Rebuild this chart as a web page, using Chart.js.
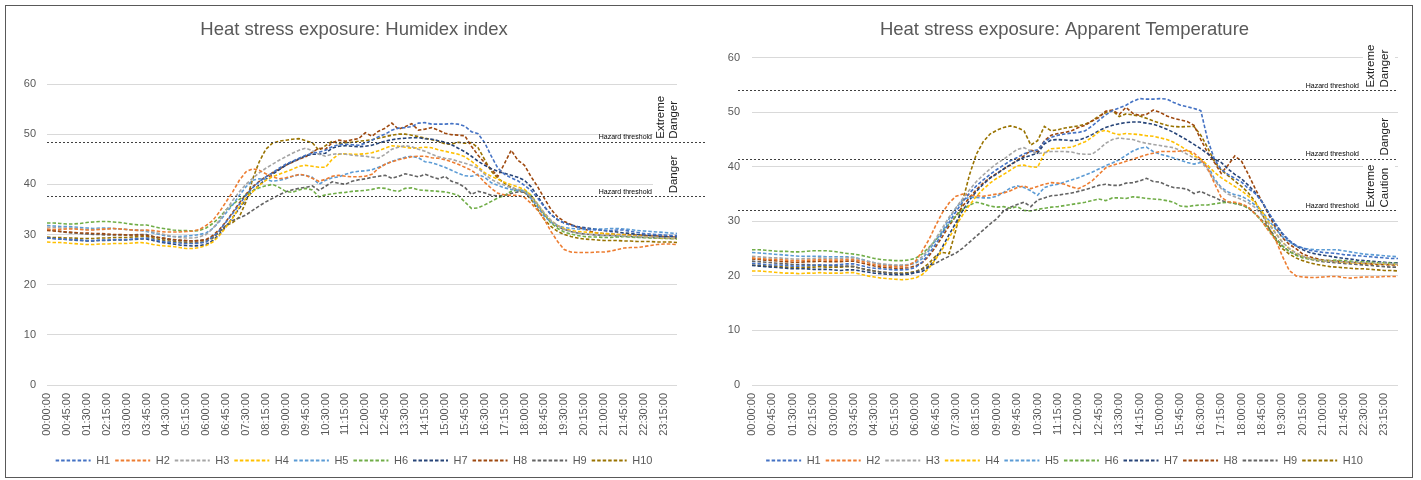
<!DOCTYPE html>
<html lang="en">
<head>
<meta charset="UTF-8">
<title>Heat stress exposure</title>
<script src="https://cdn.jsdelivr.net/npm/chart.js"></script>
<style>
  body { margin: 0; background: #fff; }
  #wrap { position: relative; width: 1421px; height: 480px; }
  #wrap canvas { position: absolute; top: 0; }
  #frame { position: absolute; left: 5px; top: 5px; width: 1408px; height: 473px;
           border: 1.5px solid #595959; box-sizing: border-box; pointer-events: none; }
</style>
</head>
<body>
<div id="wrap">
  <canvas id="humidex" width="708" height="480" style="left:0"></canvas>
  <canvas id="apparent" width="713" height="480" style="left:708px"></canvas>
  <div id="frame"></div>
</div>
<script>
// 15 minute steps, 00:00 .. 23:45
const times = [];
for (let m = 0; m < 24 * 60; m += 15) {
  const h = String(Math.floor(m / 60)).padStart(2, '0');
  const mm = String(m % 60).padStart(2, '0');
  times.push(h + ':' + mm + ':00');
}

const seriesNames = ['H1', 'H2', 'H3', 'H4', 'H5', 'H6', 'H7', 'H8', 'H9', 'H10'];
const seriesColors = ['#4472C4', '#ED7D31', '#A5A5A5', '#FFC000', '#5B9BD5',
                      '#70AD47', '#264478', '#9E480E', '#636363', '#997300'];

// Humidex index
const hxH1 = [29.3,29.2,29.1,29.0,29.0,28.9,28.8,28.8,28.9,28.9,29.0,29.0,
  29.0,29.1,29.2,29.3,29.0,28.7,28.5,28.4,28.3,28.2,28.2,28.3,
  28.5,29.5,30.8,32.5,34.2,36.0,37.8,39.3,40.5,41.5,42.3,43.2,
  44.0,44.6,45.2,45.8,46.2,46.4,46.8,47.5,47.9,48.0,47.9,47.8,
  48.2,48.8,49.5,50.0,50.8,51.2,51.3,51.5,52.2,52.3,52.0,52.0,
  52.0,52.1,52.0,51.6,50.5,50.1,48.3,45.6,43.2,42.0,41.3,40.7,
  39.8,38.8,37.2,35.5,34.0,33.0,32.3,31.8,31.5,31.2,31.0,30.9,
  30.8,30.8,30.9,30.9,30.6,30.4,30.2,30.1,30.0,29.9,29.8,29.8];
const hxH2 = [31.1,31.0,31.0,31.1,31.1,31.0,30.9,30.9,31.0,31.1,31.2,31.1,
  31.0,30.9,30.8,30.9,30.8,30.6,30.5,30.5,30.5,30.6,30.7,31.0,
  31.8,32.8,34.5,36.5,38.5,40.8,42.5,43.1,42.8,42.1,41.5,41.1,
  41.3,41.6,42.0,41.8,41.2,40.6,41.0,41.6,41.8,41.6,41.5,41.5,
  41.6,42.0,43.2,44.0,44.5,44.9,45.2,45.5,45.6,45.6,45.3,45.2,
  44.9,44.5,44.0,43.4,42.8,41.8,40.4,39.2,38.2,37.9,37.8,37.8,
  37.4,36.2,34.8,33.0,30.6,28.6,27.0,26.5,26.4,26.4,26.4,26.5,
  26.5,26.7,27.0,27.3,27.4,27.4,27.6,27.8,28.0,28.1,28.1,28.0];
const hxH3 = [31.5,31.4,31.3,31.3,31.2,31.1,31.0,31.0,31.1,31.1,31.2,31.1,
  31.0,30.9,30.9,30.8,30.5,30.2,29.9,29.6,29.4,29.3,29.3,29.5,
  30.0,31.2,32.8,34.8,36.8,38.5,40.0,41.2,42.3,43.2,44.0,44.8,
  45.5,46.2,46.8,47.2,46.7,46.0,45.6,46.0,46.1,46.0,45.8,45.7,
  45.6,45.4,45.2,46.0,47.0,47.4,47.7,47.5,47.0,46.6,46.0,45.5,
  45.2,45.0,44.6,44.2,43.8,43.2,42.0,41.0,40.3,39.8,39.3,39.0,
  38.6,37.5,36.0,34.3,32.8,31.8,31.0,30.6,30.3,30.1,30.0,29.9,
  29.8,29.8,29.8,29.7,29.6,29.6,29.5,29.5,29.4,29.4,29.3,29.3];
const hxH4 = [28.5,28.4,28.4,28.3,28.2,28.1,28.0,28.0,28.1,28.1,28.2,28.2,
  28.2,28.3,28.4,28.3,28.0,27.8,27.7,27.6,27.4,27.2,27.2,27.4,
  27.8,28.5,29.8,31.5,33.3,35.5,37.2,38.5,39.8,40.8,41.5,42.0,
  42.5,43.0,43.6,43.8,43.6,43.4,43.4,45.0,46.0,46.1,46.0,46.0,
  46.1,46.3,46.7,47.2,47.7,47.6,47.4,47.2,47.3,47.4,47.3,46.9,
  46.6,46.3,46.0,45.5,44.6,43.5,42.3,41.6,41.0,40.4,39.9,39.5,
  39.0,37.8,36.0,34.2,32.8,31.8,31.2,30.8,30.6,30.5,30.4,30.3,
  30.2,30.1,30.0,29.9,29.8,29.7,29.6,29.5,29.4,29.3,29.3,29.2];
const hxH5 = [31.8,31.7,31.6,31.6,31.5,31.4,31.3,31.2,31.3,31.3,31.2,31.1,
  31.0,30.9,30.8,30.6,30.3,30.0,29.7,29.6,29.6,29.7,29.8,30.0,
  30.3,31.2,32.6,34.3,35.9,37.8,39.5,40.8,41.1,41.0,40.6,40.8,
  41.1,41.6,41.9,41.8,41.4,40.0,40.8,41.3,41.5,42.0,42.4,42.6,
  42.7,42.9,43.4,44.0,44.6,45.0,45.4,45.6,45.3,44.5,44.3,43.9,
  43.4,42.8,42.2,41.7,41.6,42.0,41.4,40.3,39.8,39.3,39.0,38.8,
  38.6,37.2,35.5,33.6,32.5,31.8,31.4,31.2,31.1,31.0,31.0,31.1,
  31.1,31.2,31.2,31.1,31.0,30.8,30.7,30.6,30.5,30.4,30.3,30.2];
const hxH6 = [32.3,32.3,32.2,32.1,32.1,32.2,32.4,32.5,32.6,32.6,32.5,32.4,
  32.2,32.0,31.9,31.9,31.6,31.3,31.1,30.9,30.8,30.8,30.7,30.8,
  31.3,32.2,33.4,34.9,36.0,37.0,37.9,38.7,39.3,39.7,40.0,39.4,
  38.6,38.4,38.9,39.2,38.9,37.5,37.9,38.1,38.3,38.4,38.6,38.7,
  38.8,39.0,39.3,39.2,38.8,38.6,39.2,39.3,38.9,38.8,38.7,38.6,
  38.5,38.2,37.8,36.5,35.2,35.3,35.9,36.6,37.3,37.8,38.6,38.9,
  38.8,37.8,36.0,34.0,32.3,31.2,30.5,30.1,29.8,29.6,29.5,29.5,
  29.4,29.4,29.5,29.6,29.5,29.4,29.4,29.3,29.3,29.2,29.2,29.1];
const hxH7 = [29.3,29.2,29.1,29.0,28.9,28.8,28.7,28.7,28.8,28.8,28.9,28.9,
  28.9,29.0,29.1,29.1,28.8,28.5,28.3,28.1,27.9,27.8,27.7,27.8,
  28.0,28.8,30.0,31.6,33.4,35.2,37.0,38.6,39.9,41.0,42.0,42.9,
  43.8,44.5,45.1,45.7,46.0,46.0,46.2,47.2,47.6,47.7,47.6,47.5,
  47.6,47.8,48.2,48.6,48.9,49.1,49.2,49.3,49.3,49.1,49.0,48.7,
  48.4,47.9,47.2,46.5,45.6,44.6,43.8,43.1,42.6,42.2,41.8,41.4,
  40.8,39.5,37.6,35.6,34.0,32.9,32.3,31.9,31.6,31.4,31.2,31.0,
  30.8,30.6,30.5,30.3,30.2,30.0,29.9,29.8,29.7,29.6,29.6,29.5];
const hxH8 = [30.8,30.7,30.6,30.5,30.4,30.3,30.3,30.2,30.2,30.1,30.0,30.0,
  29.9,29.9,29.9,29.8,29.6,29.4,29.2,29.0,28.9,28.8,28.7,28.8,
  29.0,29.8,31.0,32.6,34.4,36.3,38.0,39.5,40.6,41.5,42.3,43.0,
  43.8,44.4,45.0,45.5,46.4,47.2,47.0,48.3,48.8,48.6,48.9,49.1,
  50.3,49.6,50.6,51.2,52.2,51.0,51.5,52.1,50.8,51.0,51.3,50.8,
  50.2,49.9,49.8,49.7,47.6,45.8,44.3,43.0,41.6,44.2,46.8,44.8,
  43.8,41.5,39.5,37.2,35.0,33.5,32.6,32.0,31.4,31.1,30.6,30.3,
  30.2,30.1,30.0,30.0,29.9,29.9,29.8,29.7,29.7,29.6,29.5,29.5];
const hxH9 = [31.0,30.8,30.6,30.4,30.3,30.2,30.1,30.0,30.0,29.9,29.9,29.9,
  29.9,29.9,30.0,30.0,29.6,29.3,29.1,28.9,28.8,28.7,28.7,28.8,
  28.9,29.5,30.6,31.8,32.8,33.3,33.9,34.8,35.7,36.5,37.2,37.9,
  38.5,38.9,39.2,39.4,39.7,38.8,39.6,40.5,40.2,40.0,40.6,40.9,
  41.1,41.4,41.6,41.8,41.2,41.6,42.1,41.8,41.5,42.0,41.5,41.1,
  41.6,40.6,40.2,39.4,38.0,38.6,38.3,37.8,37.7,37.8,38.2,38.5,
  38.4,37.4,35.6,33.8,32.5,31.6,31.0,30.6,30.3,30.1,30.0,29.9,
  29.8,29.8,29.7,29.6,29.6,29.5,29.4,29.4,29.3,29.3,29.2,29.2];
const hxH10 = [29.5,29.4,29.4,29.3,29.3,29.2,29.2,29.2,29.3,29.3,29.4,29.4,
  29.4,29.5,29.6,29.6,29.3,29.0,28.8,28.6,28.5,28.4,28.3,28.4,
  28.6,29.3,30.5,31.8,32.4,33.5,36.5,41.0,44.5,47.0,48.2,48.6,
  48.8,49.0,49.1,48.7,48.3,46.8,47.7,48.6,48.1,48.3,48.4,48.6,
  48.7,48.9,49.2,49.5,49.8,50.0,50.0,49.8,49.5,49.2,48.9,48.6,
  48.1,48.0,48.4,48.2,48.3,47.3,44.9,42.6,41.2,40.2,39.4,38.9,
  38.4,37.0,35.0,33.0,31.6,30.6,30.0,29.6,29.3,29.1,29.0,28.9,
  28.8,28.8,28.8,28.7,28.7,28.6,28.6,28.6,28.5,28.5,28.5,28.4];

// Apparent temperature
const atH1 = [22.3,22.2,22.1,22.0,22.0,21.9,21.8,21.8,21.9,21.9,22.0,22.0,
  22.0,22.1,22.2,22.2,21.9,21.6,21.4,21.3,21.2,21.1,21.1,21.2,
  21.5,22.5,24.0,25.8,27.8,29.8,31.8,33.6,35.2,36.5,37.6,38.6,
  39.5,40.3,41.1,41.7,42.4,42.8,43.1,44.6,45.4,45.8,46.0,46.2,
  46.3,46.6,47.5,48.5,49.5,50.3,50.8,51.3,52.0,52.5,52.4,52.4,
  52.5,52.4,51.8,51.3,51.0,50.7,50.3,45.0,41.4,39.5,38.6,37.9,
  37.2,36.0,35.1,33.6,31.6,29.6,27.8,26.5,25.6,25.1,24.7,24.5,
  24.3,24.2,24.1,23.9,23.8,23.7,23.6,23.5,23.4,23.3,23.2,23.2];
const atH2 = [23.3,23.2,23.1,23.0,23.0,22.9,22.8,22.8,22.9,22.9,23.0,22.9,
  22.9,22.9,23.0,23.0,22.7,22.4,22.1,21.9,21.8,21.7,21.7,21.9,
  22.6,24.5,26.6,29.2,31.6,33.4,34.6,35.0,34.8,34.7,34.6,34.8,
  35.0,35.2,35.6,36.2,36.5,36.0,36.4,36.8,37.1,37.0,36.8,36.3,
  36.0,36.6,37.4,38.6,39.8,40.3,40.6,41.0,41.4,41.8,42.2,42.5,
  42.8,42.8,42.8,42.9,43.0,42.5,41.4,39.8,37.0,34.4,33.6,33.5,
  33.2,32.6,31.4,30.0,28.2,26.6,23.6,21.0,20.0,19.8,19.7,19.7,
  19.8,19.9,19.9,19.7,19.6,19.7,19.8,19.8,19.8,19.9,19.9,19.9];
const atH3 = [23.6,23.5,23.4,23.3,23.3,23.2,23.1,23.1,23.2,23.2,23.3,23.2,
  23.2,23.2,23.3,23.3,23.0,22.7,22.4,22.2,22.1,22.0,22.0,22.1,
  22.5,23.5,25.0,26.8,28.8,30.8,32.5,34.2,35.8,37.3,38.5,39.6,
  40.6,41.4,42.3,43.2,43.5,42.9,42.4,42.6,42.8,42.8,42.8,42.7,
  42.4,42.3,42.3,43.2,44.3,45.0,45.3,45.1,45.0,44.6,44.3,44.1,
  43.9,43.7,43.5,43.0,42.3,41.6,41.0,39.5,37.5,36.0,35.0,34.5,
  34.0,33.4,32.5,31.2,29.5,27.8,26.2,25.0,24.2,23.6,23.2,23.0,
  22.8,22.7,22.6,22.6,22.5,22.5,22.4,22.4,22.3,22.3,22.2,22.2];
const atH4 = [20.9,20.9,20.8,20.7,20.6,20.5,20.5,20.4,20.5,20.5,20.6,20.5,
  20.5,20.5,20.6,20.6,20.3,20.0,19.8,19.6,19.5,19.4,19.3,19.4,
  19.6,20.2,21.4,23.0,24.9,27.0,29.2,31.2,33.0,34.6,35.9,37.0,
  37.9,38.6,39.4,40.2,40.3,40.0,39.9,42.5,43.3,43.4,43.5,43.6,
  44.1,44.6,45.4,46.4,46.7,46.2,45.9,46.1,46.0,45.9,45.7,45.6,
  45.3,45.0,44.5,43.8,43.0,42.0,41.4,40.3,39.0,38.0,37.2,36.4,
  35.6,34.6,33.4,31.8,29.8,27.8,26.2,25.0,24.2,23.6,23.2,23.0,
  22.8,22.7,22.6,22.5,22.4,22.4,22.3,22.3,22.2,22.2,22.1,22.1];
const atH5 = [24.3,24.2,24.1,24.0,23.9,23.8,23.7,23.6,23.6,23.6,23.6,23.5,
  23.5,23.5,23.5,23.4,23.1,22.7,22.4,22.1,22.0,21.9,21.9,22.0,
  22.3,23.1,24.6,26.5,28.2,30.5,32.4,34.0,34.4,34.4,34.3,34.3,
  34.6,35.3,36.1,36.5,36.2,35.6,34.8,36.2,36.6,36.8,37.2,37.6,
  38.0,38.5,39.0,39.6,40.2,40.7,41.3,42.1,42.9,43.4,43.6,42.8,
  42.3,42.0,41.6,41.2,40.8,40.5,40.8,40.3,37.8,36.2,35.4,34.9,
  34.6,33.9,33.0,31.8,30.2,28.6,27.2,26.2,25.5,25.1,24.9,24.8,
  24.8,24.8,24.8,24.6,24.4,24.2,24.0,23.9,23.8,23.7,23.6,23.5];
const atH6 = [24.8,24.8,24.7,24.6,24.5,24.5,24.4,24.4,24.5,24.6,24.6,24.6,
  24.5,24.3,24.1,24.0,23.8,23.5,23.2,23.0,22.9,22.8,22.8,22.9,
  23.2,24.0,25.2,26.5,28.0,29.6,31.0,32.2,33.0,33.5,33.2,32.8,
  32.6,32.7,32.4,32.7,32.0,31.9,32.2,32.4,32.6,32.7,32.9,33.1,
  33.3,33.5,33.8,34.1,33.8,34.3,34.3,34.2,34.5,34.4,34.2,34.1,
  34.0,33.8,33.5,32.8,32.7,32.9,33.0,33.0,33.2,33.4,33.5,33.3,
  33.0,32.4,31.4,30.0,28.4,26.8,25.5,24.5,23.8,23.3,23.1,22.9,
  22.8,22.8,22.9,22.8,22.7,22.6,22.6,22.5,22.4,22.4,22.3,22.3];
const atH7 = [21.9,21.8,21.7,21.6,21.5,21.4,21.3,21.3,21.3,21.2,21.2,21.2,
  21.1,21.0,21.1,21.1,20.9,20.7,20.5,20.4,20.3,20.2,20.2,20.3,
  20.6,20.8,21.6,23.2,25.3,27.6,29.8,32.0,33.9,35.5,36.8,37.9,
  38.7,39.6,40.4,41.1,41.7,42.1,42.5,44.2,44.9,45.0,44.9,44.8,
  44.9,45.3,45.9,46.6,47.2,47.6,47.9,48.1,48.2,48.2,48.0,47.8,
  47.4,46.9,46.3,45.6,44.9,44.1,43.3,42.4,41.4,40.8,39.6,38.6,
  37.8,36.6,35.3,33.6,31.4,29.4,27.7,26.4,25.5,24.8,24.3,24.0,
  23.8,23.6,23.4,23.2,23.1,22.9,22.8,22.7,22.6,22.5,22.4,22.4];
const atH8 = [23.1,23.0,22.9,22.8,22.7,22.6,22.5,22.5,22.6,22.6,22.7,22.6,
  22.6,22.6,22.7,22.7,22.4,22.1,21.8,21.6,21.5,21.4,21.4,21.5,
  21.8,22.4,23.6,25.3,27.2,29.2,31.0,32.8,34.4,35.8,37.0,38.0,
  38.8,39.6,40.3,41.2,42.0,43.0,42.8,44.8,45.8,46.1,46.3,46.6,
  47.2,47.6,48.4,49.0,50.2,50.4,49.6,50.9,49.8,49.4,49.6,50.4,
  50.0,49.3,48.9,48.6,48.3,47.6,45.0,42.6,40.8,38.8,40.3,42.0,
  41.0,38.6,36.0,33.6,31.2,28.8,27.0,25.8,25.0,24.0,23.5,23.2,
  22.9,22.8,22.7,22.6,22.5,22.4,22.3,22.2,22.1,22.1,22.0,22.0];
const atH9 = [22.7,22.6,22.5,22.4,22.3,22.2,22.1,22.1,22.1,22.0,22.0,21.9,
  21.9,21.8,21.8,21.7,21.4,21.1,20.9,20.7,20.6,20.5,20.4,20.5,
  20.7,21.2,21.8,22.3,23.0,23.6,24.2,25.1,26.2,27.3,28.4,29.5,
  30.5,31.9,32.6,33.1,33.5,32.7,33.9,34.3,34.7,34.8,35.0,35.2,
  35.5,35.8,36.2,36.6,36.8,36.6,36.6,37.0,37.1,37.4,37.9,37.3,
  37.2,36.6,36.2,36.1,35.9,35.1,35.5,34.9,34.4,33.8,33.5,33.3,
  33.0,32.5,31.4,30.2,28.8,27.0,25.5,24.5,23.9,23.5,23.1,22.8,
  22.6,22.5,22.4,22.3,22.2,22.1,22.0,21.9,21.8,21.7,21.6,21.6];
const atH10 = [22.0,21.9,21.8,21.8,21.7,21.6,21.5,21.5,21.6,21.6,21.7,21.6,
  21.6,21.6,21.7,21.7,21.4,21.1,20.9,20.7,20.6,20.5,20.5,20.6,
  20.8,21.3,22.3,23.6,24.3,24.1,28.5,33.8,38.6,42.3,44.6,46.0,
  46.7,47.2,47.5,47.2,46.6,44.0,44.8,47.4,46.6,46.8,47.1,47.3,
  47.5,47.8,48.4,49.3,49.9,50.3,49.2,49.7,49.5,49.3,48.9,48.4,
  48.0,47.6,47.4,47.3,47.4,47.4,45.8,43.5,41.0,39.4,38.4,37.4,
  36.4,35.2,33.6,31.4,28.8,26.6,25.0,24.0,23.3,22.8,22.4,22.1,
  21.9,21.7,21.6,21.5,21.4,21.3,21.3,21.2,21.1,21.0,21.0,20.9];

const humidexSeries = [hxH1, hxH2, hxH3, hxH4, hxH5, hxH6, hxH7, hxH8, hxH9, hxH10];
const apparentSeries = [atH1, atH2, atH3, atH4, atH5, atH6, atH7, atH8, atH9, atH10];

// hazard thresholds and the zone named above each one
const humidexLimits = [48.5, 37.6];
const humidexZones = [['Extreme', 'Danger'], ['Danger']];
const apparentLimits = [54, 41.5, 32];
const apparentZones = [['Extreme', 'Danger'], ['Danger'], ['Extreme', 'Caution']];

const FONT = "'Liberation Sans', Arial, sans-serif";
Chart.defaults.font.family = FONT;
Chart.defaults.color = '#595959';

function zonePlugin(cfg) {
  return {
    id: 'zones',
    beforeDatasetsDraw(chart) {
      const ctx = chart.ctx, y = chart.scales.y;
      ctx.save();
      ctx.font = '11.5px ' + FONT;
      ctx.fillStyle = '#ffffff';
      cfg.limits.forEach((v, i) => {
        const base = y.getPixelForValue(v) - 3;
        const len = Math.max(...cfg.zones[i].map(t => ctx.measureText(t).width));
        ctx.fillRect(cfg.col1 - 8, base - len - 4, cfg.col2 - cfg.col1 + 18, len + 5);
      });
      ctx.restore();
    },
    afterDatasetsDraw(chart) {
      const ctx = chart.ctx, y = chart.scales.y, area = chart.chartArea;
      ctx.save();
      ctx.strokeStyle = '#404040';
      ctx.lineWidth = 1;
      ctx.setLineDash([2, 2]);
      cfg.limits.forEach(v => {
        const py = Math.round(y.getPixelForValue(v)) + 0.5;
        ctx.beginPath();
        ctx.moveTo(cfg.lineStart, py);
        ctx.lineTo(cfg.lineEnd || area.right, py);
        ctx.stroke();
      });
      ctx.setLineDash([]);
      ctx.fillStyle = '#000';
      ctx.font = '7px ' + FONT;
      ctx.textAlign = 'right';
      ctx.textBaseline = 'bottom';
      cfg.limits.forEach(v => ctx.fillText('Hazard threshold', cfg.textRight, y.getPixelForValue(v) - 1));

      ctx.font = '11.5px ' + FONT;
      ctx.fillStyle = '#222';
      ctx.textAlign = 'left';
      ctx.textBaseline = 'middle';
      cfg.limits.forEach((v, i) => {
        const base = y.getPixelForValue(v) - 3;
        const lines = cfg.zones[i];
        const xs = lines.length > 1 ? [cfg.col1, cfg.col2] : [cfg.col2];
        lines.forEach((t, j) => {
          ctx.save();
          ctx.translate(xs[j], base);
          ctx.rotate(-Math.PI / 2);
          ctx.fillText(t, 0, 0);
          ctx.restore();
        });
      });
      ctx.restore();
    }
  };
}

function makeChart(id, title, series, opt) {
  const datasets = series.map((values, i) => ({
    label: seriesNames[i],
    data: values,
    borderColor: seriesColors[i],
    backgroundColor: seriesColors[i],
    borderWidth: 1.6,
    borderDash: [3.5, 2],
    pointRadius: 0,
    tension: 0,
    fill: false
  }));
  return new Chart(document.getElementById(id), {
    type: 'line',
    data: { labels: times, datasets: datasets },
    options: {
      responsive: false,
      animation: false,
      layout: { padding: { left: 0, right: 0, top: 0, bottom: 4 } },
      plugins: {
        title: {
          display: true, text: title, color: '#595959',
          font: { size: 18.5, weight: 'normal' },
          padding: { top: 19, bottom: opt.titleGap }
        },
        legend: {
          position: 'bottom',
          labels: {
            usePointStyle: true,
            pointStyle: 'line',
            pointStyleWidth: 35,
            padding: 5,
            color: '#595959',
            font: { size: 11 },
            generateLabels(chart) {
              return Chart.defaults.plugins.legend.labels.generateLabels(chart).map(item => {
                const ds = chart.data.datasets[item.datasetIndex];
                return Object.assign(item, { strokeStyle: ds.borderColor, lineDash: [3.5, 2], lineWidth: 2, pointStyle: 'line' });
              });
            }
          }
        },
        tooltip: { enabled: false }
      },
      scales: {
        x: {
          grid: { display: false, drawTicks: false },
          border: { display: false },
          ticks: {
            autoSkip: false, minRotation: 90, maxRotation: 90, padding: 8,
            color: '#595959', font: { size: 11 },
            callback(v, i) { return i % 3 === 0 ? this.getLabelForValue(v) : null; }
          },
          afterFit(s) { s.height = 65; }
        },
        y: {
          min: 0, max: 60,
          ticks: { stepSize: 10, padding: opt.yPad, color: '#595959', font: { size: 11 } },
          grid: { color: '#d9d9d9', drawTicks: false },
          border: { display: false },
          afterFit(s) { s.width = opt.yWidth; }
        },
        pad: {
          position: 'right', display: true,
          grid: { display: false, drawTicks: false },
          border: { display: false },
          ticks: { display: false },
          afterFit(s) { s.width = opt.rightGap; }
        }
      }
    },
    plugins: [zonePlugin(opt.zones)]
  });
}

makeChart('humidex', 'Heat stress exposure: Humidex index', humidexSeries, {
  titleGap: 42.8, yWidth: 47, yPad: 11, rightGap: 31,
  zones: { limits: humidexLimits, zones: humidexZones, col1: 661, col2: 674, textRight: 652, lineStart: 47, lineEnd: 706 }
});
makeChart('apparent', 'Heat stress exposure: Apparent Temperature', apparentSeries, {
  titleGap: 16.5, yWidth: 44, yPad: 12, rightGap: 23,
  zones: { limits: apparentLimits, zones: apparentZones, col1: 663, col2: 677, textRight: 651, lineStart: 30, lineEnd: 0 }
});
</script>
</body>
</html>
